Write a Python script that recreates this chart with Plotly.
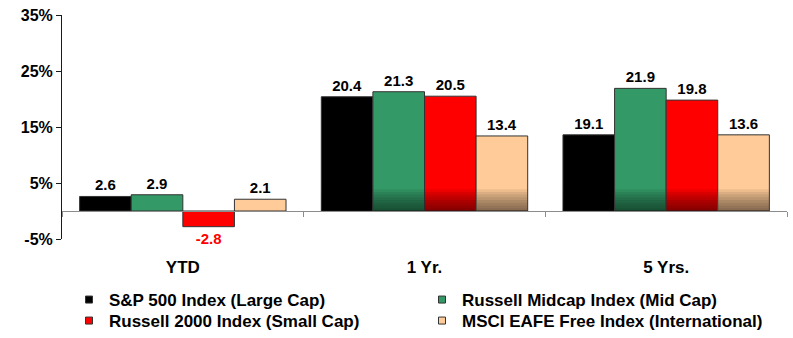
import plotly.graph_objects as go

categories = ["YTD", "1 Yr.", "5 Yrs."]
series_names = [
    "S&P 500 Index (Large Cap)",
    "Russell Midcap Index (Mid Cap)",
    "Russell 2000 Index (Small Cap)",
    "MSCI EAFE Free Index (International)",
]
# bar heights as drawn in the picture
sp500 = [2.6, 20.4, 13.6]
midcap = [2.9, 21.3, 21.9]
russell2000 = [-2.8, 20.5, 19.8]
eafe = [2.1, 13.4, 13.6]
# data labels as printed in the picture
sp500_labels = ["2.6", "20.4", "19.1"]
midcap_labels = ["2.9", "21.3", "21.9"]
russell2000_labels = ["-2.8", "20.5", "19.8"]
eafe_labels = ["2.1", "13.4", "13.6"]
y_tickvals = [-5, 5, 15, 25, 35]
y_ticktext = ["-5%", "5%", "15%", "25%", "35%"]

colors = ["#000000", "#339966", "#FF0000", "#FFCC99"]
values = [sp500, midcap, russell2000, eafe]
labels = [sp500_labels, midcap_labels, russell2000_labels, eafe_labels]

FONT = "Liberation Sans, Arial, sans-serif"
BAR_W = 0.2135
OFF0 = -2 * BAR_W

fig = go.Figure()

for i, (name, vals, labs, col) in enumerate(zip(series_names, values, labels, colors)):
    tcol = ["#FF0000" if v < 0 else "#000000" for v in vals]
    fig.add_trace(go.Bar(
        x=categories, y=vals, name=name, showlegend=False,
        width=BAR_W, offset=OFF0 + i * BAR_W,
        marker=dict(color=col, line=dict(color="#333333", width=1)),
        text=labs, textposition="outside", constraintext="none", cliponaxis=False,
        textfont=dict(family=FONT, size=15, color=tcol, weight="bold"),
    ))
    # bottom shading (darker towards the axis) on the larger bars
    N = 8
    H = 3.9
    for k in range(N):
        h = H * (N - k) / N
        fig.add_trace(go.Bar(
            x=categories, y=[0 if v < 8 else h for v in vals],
            width=BAR_W * 0.985, offset=OFF0 + i * BAR_W + BAR_W * 0.0075,
            marker=dict(color="rgba(0,0,0,0.075)", line=dict(width=0)),
            showlegend=False, hoverinfo="skip",
        ))

# legend proxies, one small legend per entry (2 x 2 grid)
legend_ids = ["legend", "legend2", "legend3", "legend4"]
text_x = [109, 462, 109, 462]
row_y = [300, 300, 321, 321]
legend_layout = {}
for i, (name, col) in enumerate(zip(series_names, colors)):
    fig.add_trace(go.Scatter(
        x=[None], y=[None], mode="markers", name=name,
        marker=dict(symbol="square", size=7, color=col, line=dict(color="#333333", width=1)),
        legend=legend_ids[i],
    ))
    legend_layout[legend_ids[i]] = dict(
        orientation="v", xanchor="left", yanchor="middle",
        xref="container", yref="container",
        x=(text_x[i] - 40) / 793, y=1 - row_y[i] / 338,
        font=dict(family=FONT, size=17, color="#000000", weight="bold"),
        bgcolor="rgba(0,0,0,0)", itemwidth=30,
    )

fig.update_layout(
    width=793, height=338,
    margin=dict(l=62, r=6, t=15, b=99, autoexpand=False),
    paper_bgcolor="white", plot_bgcolor="white",
    barmode="overlay",
    showlegend=True,
    **legend_layout,
    xaxis=dict(
        type="category", range=[-0.5, 2.5],
        anchor="free", position=0.125,
        showline=True, linecolor="#8c8c8c", linewidth=1,
        ticks="outside", tickson="boundaries", ticklen=5, tickcolor="#8c8c8c",
        showgrid=False, zeroline=False,
        ticklabelstandoff=41,
        tickfont=dict(family=FONT, size=17, color="#000000", weight="bold"),
    ),
    yaxis=dict(
        range=[-5, 35], domain=[0, 1],
        tickvals=y_tickvals, ticktext=y_ticktext,
        showline=True, linecolor="#1a1a1a", linewidth=1,
        ticks="outside", ticklen=5, tickcolor="#1a1a1a",
        showgrid=False, zeroline=False,
        tickfont=dict(family=FONT, size=16, color="#000000", weight="bold"),
    ),
)

fig.write_html("out.html")
